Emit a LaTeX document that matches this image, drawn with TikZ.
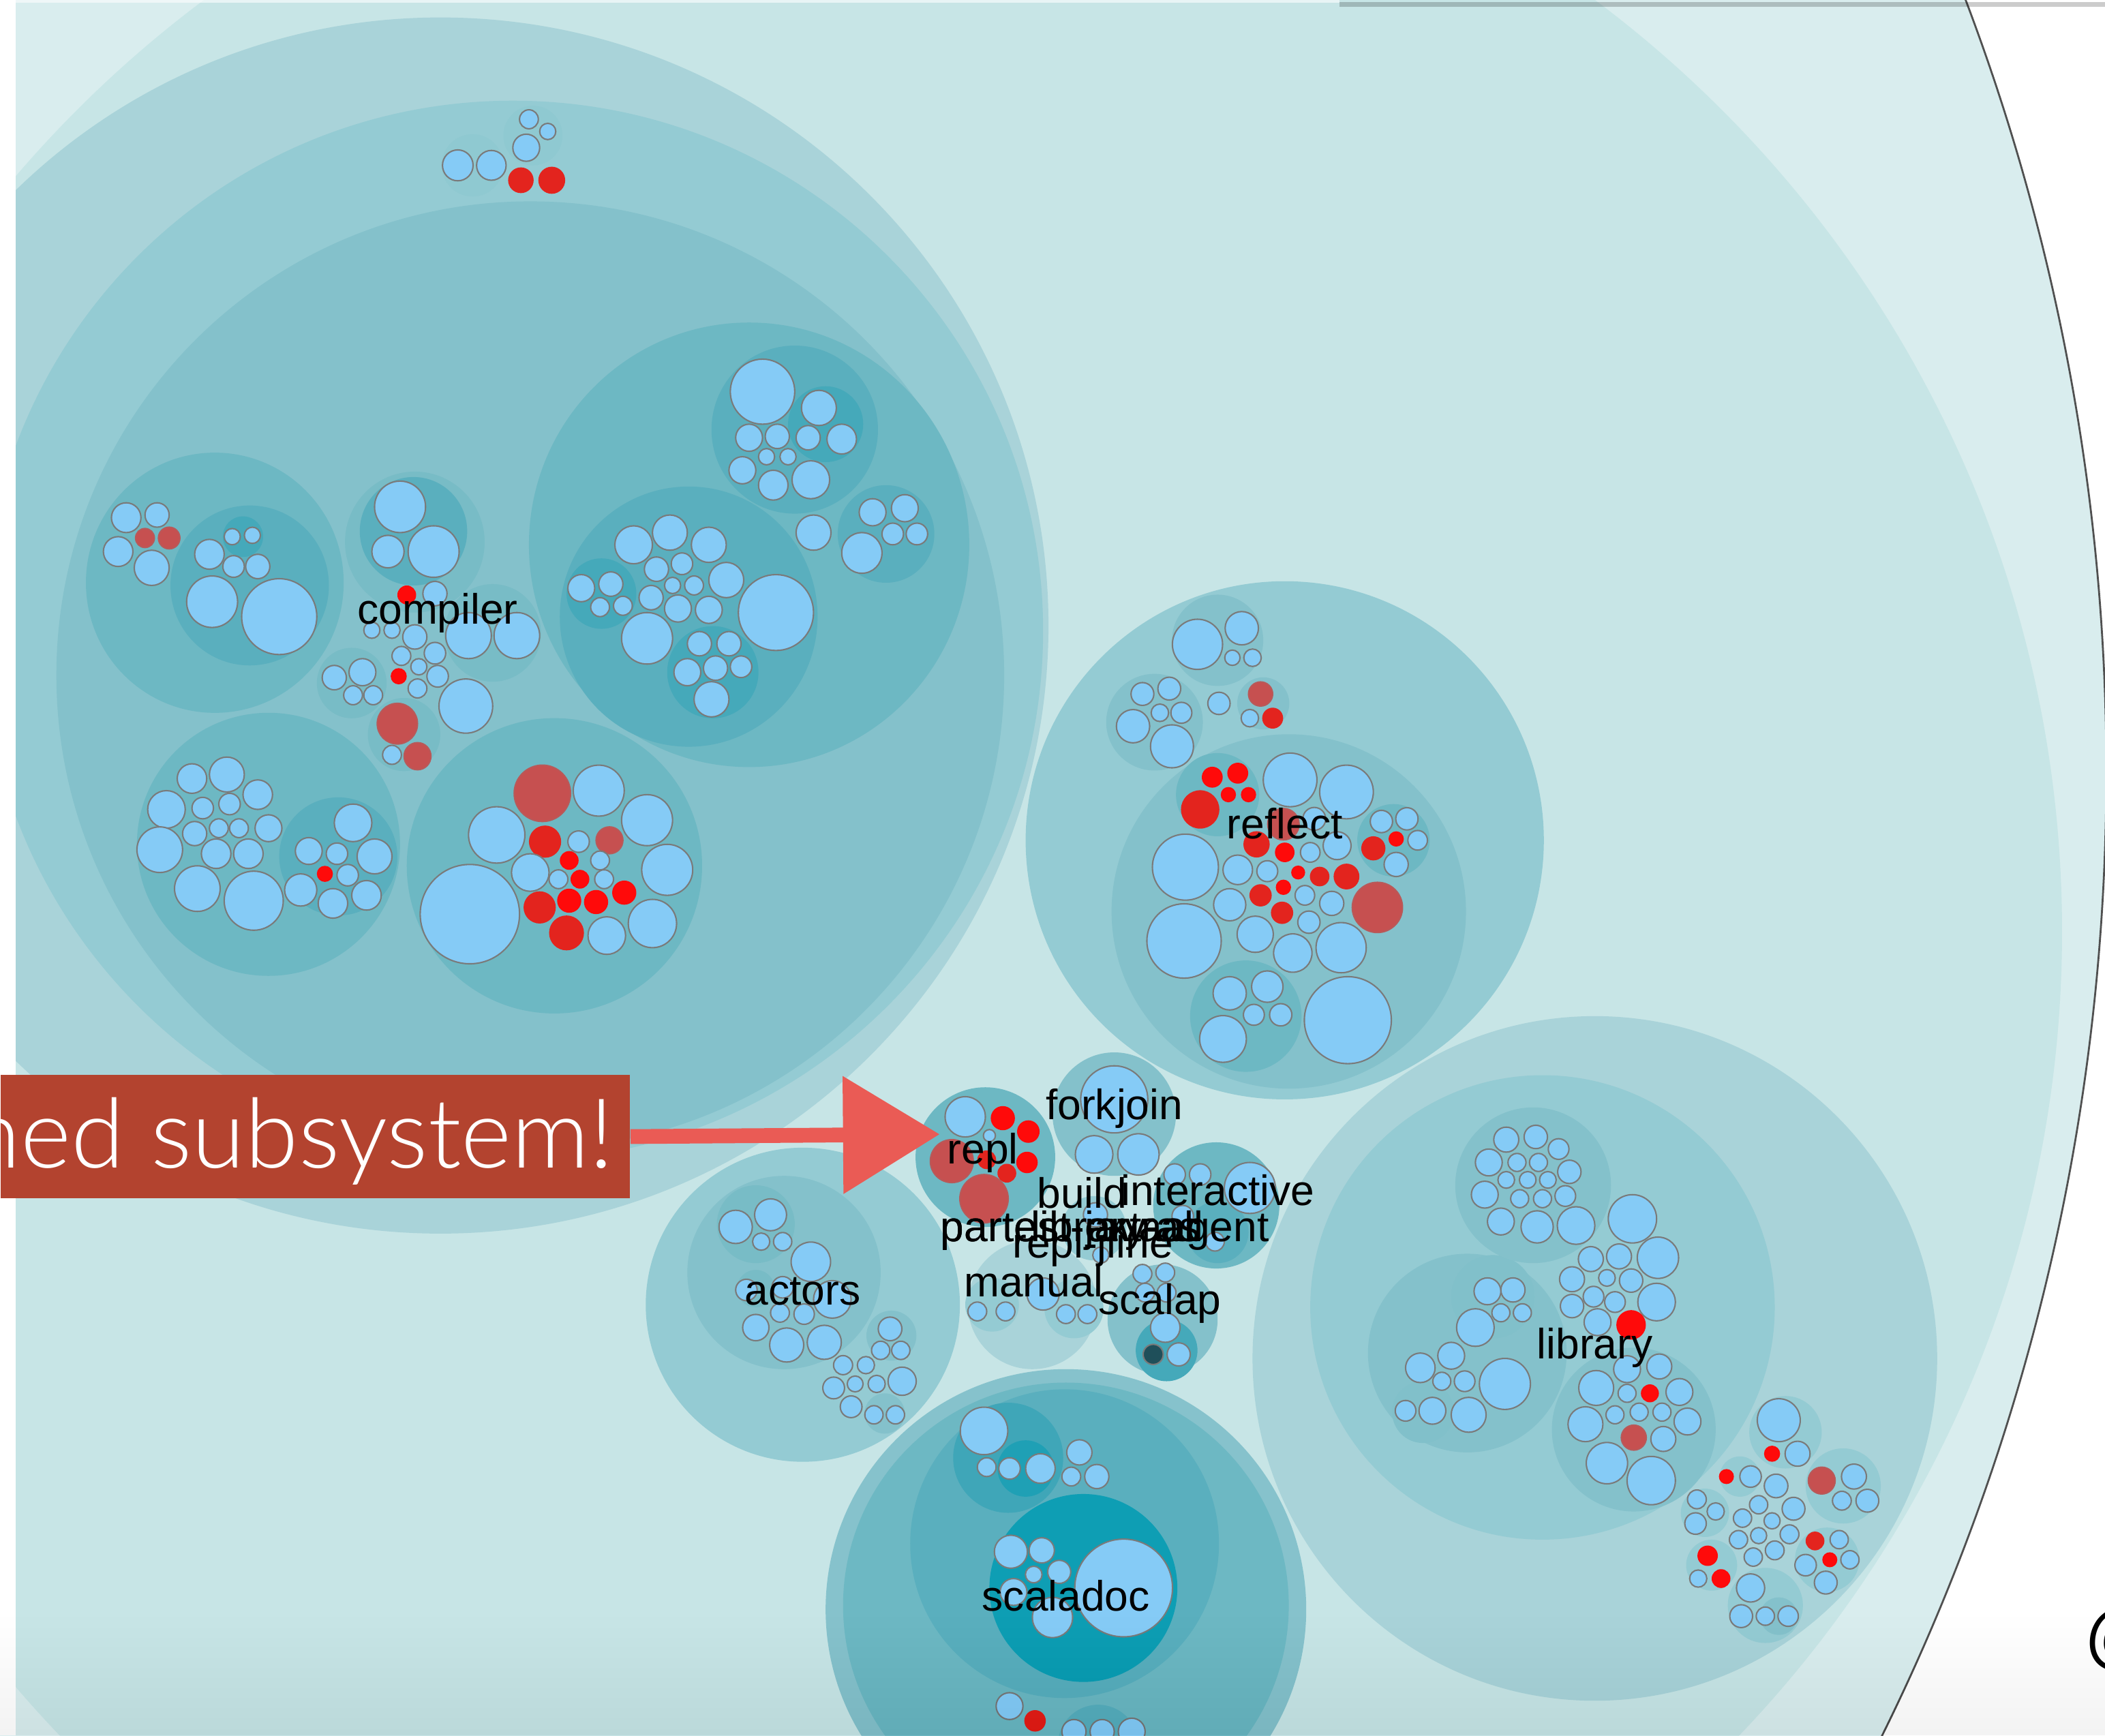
\documentclass[tikz,border=0pt]{standalone}
\usepackage{fontspec}
\setmainfont{Liberation Sans}
\newfontfamily\bannerfont{Lato Light}
\usetikzlibrary{arrows.meta}
\definecolor{rootc}{HTML}{D9EDEE}
\definecolor{srcc}{HTML}{C7E5E6}
\definecolor{rimc}{HTML}{505050}
\definecolor{ringA}{HTML}{A9D3D9}
\definecolor{ringB}{HTML}{94CBD3}
\definecolor{ringC}{HTML}{84C1CB}
\definecolor{subA}{HTML}{6DB8C3}
\definecolor{subB}{HTML}{5AAFBE}
\definecolor{subC}{HTML}{45A9BA}
\definecolor{subD}{HTML}{78BCC6}
\definecolor{docA}{HTML}{3FA6B8}
\definecolor{docB}{HTML}{1FA0B5}
\definecolor{deepc}{HTML}{0E9EB4}
\definecolor{lbc}{HTML}{85CBF6}
\definecolor{strokec}{HTML}{7A7A7A}
\definecolor{redA}{HTML}{FF0A0A}
\definecolor{redB}{HTML}{E3241E}
\definecolor{redC}{HTML}{C65050}
\definecolor{darkdot}{HTML}{1F4F5A}
\definecolor{bannerc}{HTML}{B3432F}
\definecolor{arrowc}{HTML}{EA5B55}
\newcommand\bub[3]{\filldraw[fill=lbc,draw=strokec,line width=0.3pt] (#1,#2) circle[radius=#3];}
\newcommand\rdA[3]{\fill[redA] (#1,#2) circle[radius=#3];}
\newcommand\rdB[3]{\fill[redB] (#1,#2) circle[radius=#3];}
\newcommand\rdC[3]{\filldraw[fill=redC,draw=redC!80!gray,line width=0.3pt] (#1,#2) circle[radius=#3];}
\newcommand\fc[4]{\fill[#1] (#2,#3) circle[radius=#4];}
\begin{document}
\begin{tikzpicture}[x=0.01cm,y=-0.01cm,
  lbl/.style={font=\fontsize{9pt}{10pt}\selectfont, text=black, anchor=base, inner sep=0pt},
  lblw/.style={lbl, anchor=base west}]
\useasboundingbox (0,0) rectangle (1568,1293);
\begin{scope}
\clip (0,0) rectangle (1568,1293);
\fill[white] (0,0) rectangle (1568,1293);
% root and src circles
\filldraw[fill=rootc, draw=rimc, line width=0.4pt] (-54,575) circle[radius=1623];
\fill[srcc] (670,694) circle[radius=866];
% ===== compiler =====
\fc{ringA}{328}{466}{453}
\fc{ringB}{382}{470}{395}
\fc{ringC}{395}{503}{353}
\begin{scope}[yscale=1.0096]
% top group
\fc{ringB!88!subA}{352}{122}{23}
\fc{ringB!88!subA}{397}{100}{22}
\bub{341}{122}{11.4}\bub{366}{122}{11}\bub{392}{109}{10}\bub{394}{88}{7}\bub{408}{97}{6}
\rdB{388}{133}{9.5}\rdB{411}{133}{10}
% left group
\fc{subA}{160}{430}{96}
\fc{subB}{186}{432}{59}
\fc{subC}{181}{396}{15}
\bub{94}{382}{11}\bub{117}{380}{9}\bub{88}{407}{11}\bub{113}{419}{13}
\bub{173}{396}{6}\bub{188}{395}{6}\bub{156}{409}{11}\bub{174}{418}{8}\bub{192}{418}{9}
\bub{158}{444}{19}\bub{208}{455}{28}
\rdC{108}{397}{7}\rdC{126}{397}{8}
% middle top
\fc{subD}{309}{400}{52}
\fc{subB}{308}{392}{40}
\bub{298}{374}{19}\bub{289}{407}{12}\bub{323}{407}{19}\bub{324}{438}{9}
\rdA{303}{439}{7}
\fc{subD}{367}{467}{36}
\bub{349}{469}{17}\bub{385}{469}{17}
\bub{277}{465}{6}\bub{292}{465}{6}\bub{309}{470}{9}\bub{299}{484}{7}\bub{324}{482}{8}
\bub{312}{492}{6}\bub{326}{499}{8}\bub{311}{508}{7}\bub{347}{521}{20}
\rdA{297}{499}{6}
\fc{subD}{262}{504}{26}
\bub{249}{500}{9}\bub{270}{496}{10}\bub{263}{513}{7}\bub{278}{513}{7}
\fc{subD}{301}{542}{27}
\rdC{296}{534}{15}\bub{292}{557}{7}\rdC{311}{558}{10}
% right big group
\fc{subA}{558}{402}{164}
\fc{subB}{592}{317}{62}
\fc{subC}{615}{313}{28}
\bub{568}{289}{24}\bub{610}{301}{13}\bub{627}{324}{11}\bub{602}{323}{9}\bub{558}{323}{10}
\bub{579}{322}{9}\bub{571}{337}{6}\bub{587}{337}{6}\bub{553}{347}{10}\bub{576}{358}{11}\bub{604}{354}{14}
\bub{606}{393}{13}
\fc{subB}{660}{394}{36}
\bub{650}{378}{10}\bub{674}{375}{10}\bub{665}{394}{8}\bub{683}{394}{8}\bub{642}{408}{15}
\fc{subB}{513}{455}{96}
\fc{subC}{448}{438}{26}
\bub{433}{434}{10}\bub{455}{431}{9}\bub{447}{448}{7}\bub{464}{447}{7}
\bub{472}{402}{14}\bub{499}{393}{13}\bub{528}{402}{13}\bub{489}{420}{9}\bub{508}{416}{8}
\bub{541}{428}{13}\bub{501}{432}{6}\bub{517}{432}{7}\bub{485}{441}{9}\bub{505}{449}{10}
\bub{528}{450}{10}\bub{578}{452}{28}\bub{482}{471}{19}
\fc{subC}{531}{496}{34}
\bub{521}{475}{9}\bub{543}{475}{9}\bub{512}{496}{10}\bub{533}{493}{9}\bub{552}{492}{8}\bub{530}{516}{13}
\end{scope}
% lower-left group
\fc{subA}{200}{629}{98}
\fc{subB}{252}{638}{44}
\bub{143}{580}{11}\bub{169}{577}{13}\bub{192}{592}{11}\bub{124}{603}{14}\bub{151}{602}{8}
\bub{171}{599}{8}\bub{145}{621}{9}\bub{163}{617}{7}\bub{178}{617}{7}\bub{200}{617}{10}
\bub{119}{633}{17}\bub{161}{636}{11}\bub{185}{636}{11}\bub{147}{662}{17}\bub{189}{671}{22}
\bub{263}{613}{14}\bub{230}{634}{10}\bub{251}{636}{8}\bub{279}{638}{13}\bub{259}{652}{8}
\bub{224}{663}{12}\bub{248}{673}{11}\bub{273}{667}{11}
\rdA{242}{651}{6}
% lower-right group
\fc{subA}{413}{645}{110}
\bub{350}{681}{37}\rdC{404}{591}{21}\bub{446}{589}{19}\bub{482}{611}{19}\bub{370}{622}{21}
\rdB{406}{627}{12}\rdC{454}{626}{10}\bub{431}{627}{8}\rdA{424}{641}{7}\bub{447}{641}{7}
\bub{395}{650}{14}\rdA{432}{655}{7}\bub{450}{655}{7}\bub{416}{655}{7}\rdA{465}{665}{9}
\bub{497}{648}{19}\rdB{402}{676}{12}\rdA{424}{671}{9}\rdA{444}{672}{9}\bub{486}{688}{18}
\rdB{422}{695}{13}\bub{452}{697}{14}
% ===== reflect =====
\fc{ringB}{957}{626}{193}
\fc{ringC}{960}{679}{132}
\fc{ringC}{907}{477}{34}
\bub{892}{480}{18.7}\bub{925}{468}{12.4}\bub{918}{490}{5.7}\bub{933}{490}{6.5}
\fc{ringC}{860}{538}{36}
\bub{851}{517}{8.5}\bub{871}{513}{8.5}\bub{864}{531}{6.5}\bub{880}{531}{7.8}\bub{844}{541}{12.4}\bub{873}{556}{16}
\bub{908}{524}{8.3}
\fc{ringC}{941}{524}{19.4}
\rdC{939}{517}{9}\bub{931}{535}{6.5}\rdB{948}{535}{7.8}
\fc{subA}{907}{592}{31}
\rdA{903}{579}{7.8}\rdA{922}{576}{7.8}\rdA{915}{592}{5.7}\rdA{930}{592}{5.7}\rdB{894}{603}{14.3}
\bub{961}{581}{20}\bub{1003}{590}{20}\rdC{956}{614}{11.7}\bub{979}{610}{8.5}
\fc{subA}{1038}{626}{27}
\bub{1029}{612}{8.3}\bub{1048}{610}{8.3}\bub{1056}{626}{7.3}\bub{1040}{644}{9}\rdB{1023}{632}{9}\rdA{1040}{625}{5.7}
\bub{883}{646}{24.6}\rdB{936}{629}{9.8}\rdA{957}{635}{7.3}\bub{976}{635}{7.3}\bub{996}{630}{10.4}
\bub{922}{648}{11}\bub{944}{649}{7.8}\rdA{967}{650}{5.2}\rdB{983}{653}{7.3}\rdB{1003}{653}{9.6}
\rdA{956}{661}{5.7}\rdB{939}{667}{8.3}\bub{972}{667}{7.3}\bub{992}{673}{9}\bub{916}{674}{12}
\rdB{955}{680}{8.3}\rdC{1026}{676}{18.7}\bub{975}{687}{8.3}\bub{882}{701}{27.7}\bub{935}{696}{13.5}
\bub{963}{710}{14.3}\bub{999}{706}{18.7}
\fc{subA}{928}{757}{41.5}
\bub{916}{740}{12.4}\bub{944}{735}{11.7}\bub{934}{756}{7.8}\bub{954}{756}{8.3}\bub{911}{774}{17.4}
\bub{1004}{760}{32.4}
% ===== library =====
\fc{ringA}{1188}{1012}{255}
\fc{ringB}{1149}{974}{173}
\fc{ringC}{1093}{1008}{74}
\fc{ringC!85!subA}{1112}{966}{31}
\fc{ringC!85!subA}{1060}{1052}{23}
\bub{1108}{962}{10}\bub{1127}{961}{9}\bub{1118}{978}{6.7}\bub{1134}{978}{6.7}\bub{1099}{989}{14}
\bub{1058}{1019}{11}\bub{1081}{1010}{10}\bub{1074}{1029}{6.7}\bub{1091}{1029}{7.7}\bub{1121}{1031}{19}
\bub{1047}{1051}{7.7}\bub{1067}{1051}{10}\bub{1094}{1054}{13}
\fc{ringC}{1142}{883}{58}
\bub{1122}{849}{9.3}\bub{1144}{847}{8.7}\bub{1109}{866}{10}\bub{1130}{866}{6.7}\bub{1146}{866}{6.7}
\bub{1161}{856}{7.7}\bub{1169}{873}{8.7}\bub{1122}{879}{6.2}\bub{1138}{879}{6.2}\bub{1153}{879}{6.2}
\bub{1106}{890}{10}\bub{1132}{893}{6.7}\bub{1149}{893}{6.7}\bub{1166}{891}{7.7}\bub{1118}{910}{10}
\bub{1145}{914}{12}\bub{1174}{913}{14}
\bub{1216}{908}{18}\bub{1235}{937}{15.4}\bub{1185}{938}{9.3}\bub{1206}{936}{9.3}\bub{1171}{953}{9.3}
\bub{1197}{952}{6.2}\bub{1215}{954}{8.7}\bub{1234}{970}{14}\bub{1171}{973}{8.7}\bub{1187}{966}{7.7}
\bub{1203}{970}{7.7}\bub{1190}{985}{10}\rdA{1215}{987}{11}
\fc{ringC}{1217}{1065}{61}
\bub{1212}{1020}{10}\bub{1236}{1018}{9.3}\bub{1189}{1034}{13}\bub{1212}{1038}{6.7}\bub{1251}{1037}{10}
\bub{1203}{1054}{6.7}\bub{1221}{1052}{6.7}\bub{1238}{1052}{6.7}\bub{1257}{1059}{10}\bub{1181}{1061}{13}
\bub{1239}{1072}{9.3}\bub{1197}{1090}{15.4}\bub{1230}{1103}{18}
\rdA{1229}{1038}{6.7}\rdC{1217}{1071}{9.3}
% library bottom-right cluster
\fc{ringB}{1330}{1067}{27}
\bub{1325}{1058}{16}\rdA{1320}{1083}{6}\bub{1339}{1083}{9.3}
\fc{ringB}{1296}{1100}{15}
\rdA{1286}{1100}{5.6}\bub{1304}{1100}{8}
\bub{1323}{1107}{8.8}
\fc{ringB}{1373}{1107}{28}
\rdC{1357}{1103}{10}\bub{1381}{1100}{9.3}\bub{1372}{1118}{7}\bub{1391}{1118}{8.5}
\fc{ringB}{1270}{1127}{18}
\bub{1264}{1117}{7}\bub{1278}{1126}{6.4}\bub{1263}{1135}{8}
\bub{1310}{1121}{6.8}\bub{1336}{1124}{8.5}\bub{1298}{1131}{6.8}\bub{1320}{1133}{6}\bub{1333}{1143}{7}
\bub{1295}{1147}{6.8}\bub{1310}{1144}{6}\bub{1322}{1155}{7}\bub{1306}{1160}{6.8}
\fc{ringB}{1361}{1162}{24}
\rdB{1352}{1148}{7}\bub{1370}{1147}{6.8}\bub{1345}{1166}{8}\bub{1378}{1162}{6.8}\bub{1360}{1179}{8.5}\rdA{1363}{1162}{5.6}
\fc{ringB}{1275}{1166}{19}
\rdA{1272}{1159}{7.6}\bub{1265}{1176}{6.4}\rdA{1282}{1176}{7}
\fc{ringB}{1315}{1196}{28}
\fc{ringC}{1325}{1204}{14}
\bub{1304}{1183}{10.5}\bub{1297}{1204}{8.5}\bub{1315}{1204}{6.8}\bub{1332}{1204}{7.6}
% ===== actors =====
\fc{ringB}{598}{972}{117}
\fc{ringC}{584}{948}{72}
\fc{subD}{563}{912}{29}
\bub{548}{914}{12.4}\bub{574}{905}{11.9}\bub{567}{925}{6.4}\bub{583}{925}{6.8}
\bub{604}{940}{14.7}
\fc{subD}{563}{960}{14}
\bub{556}{961}{8}\bub{583}{959}{8}
\bub{620}{968}{14}\bub{581}{978}{7}\bub{599}{979}{7.6}\bub{563}{989}{9.8}\bub{586}{1002}{12.7}\bub{614}{1000}{12.7}
\fc{ringC}{664}{995}{18.6}
\fc{ringC}{659}{1053}{15}
\bub{663}{990}{8.8}\bub{656}{1006}{6.8}\bub{671}{1006}{6.8}\bub{628}{1017}{7.1}\bub{645}{1017}{6.4}
\bub{672}{1029}{10.5}\bub{621}{1034}{8.1}\bub{637}{1031}{5.9}\bub{653}{1031}{6.4}\bub{634}{1048}{8.1}
\bub{651}{1054}{6.8}\bub{667}{1054}{6.8}
% ===== scaladoc =====
\fc{ringC!90!ringB}{794}{1199}{179}
\fc{subA}{794}{1196}{166}
\fc{subB}{793}{1150}{115}
\fc{docA}{751}{1086}{41}
\fc{docB}{764}{1094}{21}
\bub{733}{1066}{17.7}\bub{735}{1093}{7}\bub{752}{1094}{8}\bub{775}{1094}{11}
\bub{804}{1082}{9.4}\bub{798}{1100}{7}\bub{817}{1100}{9}
\fc{deepc}{807}{1183}{70}
\bub{753}{1156}{12.3}\bub{776}{1155}{9.4}\bub{770}{1173}{6.2}\bub{789}{1171}{8.6}\bub{755}{1186}{10}
\bub{784}{1205}{15}\bub{837}{1183}{36.4}
\bub{752}{1271}{10}\rdB{771}{1282}{8}
\fc{subB}{818}{1300}{30}
\bub{800}{1290}{9}\bub{821}{1290}{9}\bub{843}{1290}{10}
% ===== small projects =====
% repl
\fc{subA}{734}{862}{52}
\bub{719}{832}{15}\rdA{747}{833}{9}\rdA{766}{843}{8.4}\bub{737}{846}{4.5}\rdC{709}{865}{16}
\rdA{765}{866}{8}\rdB{735}{864}{7}\rdB{750}{874}{7}\rdC{733}{893}{18}
% forkjoin
\fc{ringC}{830}{830}{46}
\bub{830}{819}{25}\bub{815}{860}{14}\bub{848}{860}{15.4}
% interactive
\fc{subA}{906}{898}{47}
\fc{subB}{907}{918}{23}
\bub{875}{875}{8}\bub{894}{875}{8}\bub{931}{885}{19}\bub{881}{906}{8}\bub{905}{925}{7}
% build
\fc{ringB}{815}{915}{24}
\bub{816}{905}{9}\bub{820}{935}{6}
% manual
\fc{ringA}{769}{972}{48}
\fc{ringB}{739}{972}{20}
\fc{ringB}{800}{975}{22}
\bub{728}{977}{7}\bub{749}{977}{7}\bub{777}{964}{12}\bub{794}{979}{7}\bub{810}{979}{7}
% scalap
\fc{ringC}{866}{983}{41}
\fc{subC}{869}{1006}{23}
\bub{851}{949}{7}\bub{868}{948}{7}\bub{853}{963}{7}\bub{869}{963}{7}\bub{868}{989}{11}\bub{878}{1009}{8.6}
\filldraw[fill=darkdot,draw=strokec,line width=0.3pt] (859,1009) circle[radius=7.5];
% ===== labels =====
\node[lbl] (Lcompiler) at (326,465) {compiler};
\node[lbl] (Lreflect) at (957,625) {reflect};
\node[lbl] (Lrepl) at (732,867) {repl};
\node[lbl] (Lforkjoin) at (830,834) {forkjoin};
\node[lbl] (Lbuild) at (806,900) {build};
\node[lbl] (Linteractive) at (907,898) {interactive};
\node[lblw] (Lpartest) at (700,925) {partest-javaagent};
\node[lbl] (Lliball) at (832,925) {library-all};
\node[lblw] (Lpartestx) at (700,925) {partest-extras};
\node[lbl] (Ljline) at (814,937) {repl-jline};
\node[lbl] (Lmanual) at (770,966) {manual};
\node[lbl] (Lscalap) at (864,979) {scalap};
\node[lbl] (Lactors) at (598,972) {actors};
\node[lbl] (Llibrary) at (1188,1012) {library};
\node[lbl] (Lscaladoc) at (794,1200) {scaladoc};
% ===== frame details =====
\fill[white] (0,0) rectangle (11.7,1293);
\fill[white,opacity=0.6] (11.7,0) rectangle (998,2);
\fill[black,opacity=0.2] (998,1.5) rectangle (1568,5);
\foreach \i in {0,...,11}{\fill[black,opacity=0.005] (0,{1205+\i*7.5}) rectangle (1568,1293);}
\node[font=\fontsize{16pt}{18pt}\selectfont, inner sep=0pt] (atsign) at (1581,1221) {@};
% ===== banner and arrow =====
\node[fill=bannerc, minimum width=4.68cm, minimum height=0.92cm, anchor=north west, inner sep=0pt] (bannerbox) at (0,800) {};
\node[font=\bannerfont\fontsize{20.5pt}{22pt}\selectfont, text=white, anchor=base east, inner sep=0pt] (bannertext) at (458,870) {ned subsystem!};
\coordinate (arrowtip) at (700,845);
\draw[arrowc, line width=0.11cm, -{Triangle[length=0.72cm,width=0.85cm]}] (bannerbox.east) -- (arrowtip);
\end{scope}
\end{tikzpicture}
\end{document}
